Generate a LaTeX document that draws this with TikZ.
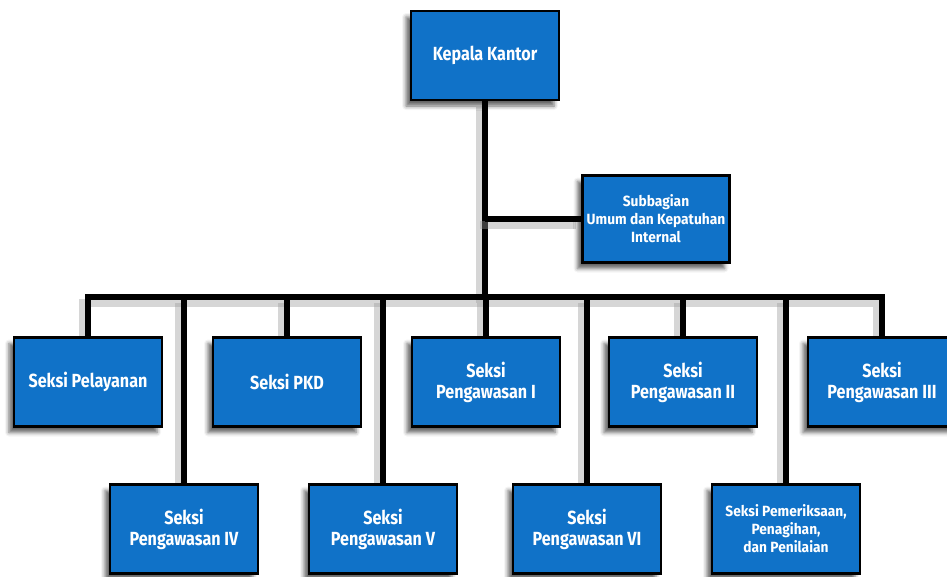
\documentclass[tikz,border=0pt]{standalone}
\usepackage{fontspec}
\setmainfont{Fira Sans}[FakeStretch=0.85]
\newfontfamily\widerfont{Fira Sans}[FakeStretch=0.93]
\usetikzlibrary{backgrounds,shadows.blur}
\definecolor{unitblue}{RGB}{16,114,200}
\tikzset{>=latex}
\tikzset{
    box/.style = {draw=black, line width=2.5pt, fill=unitblue, text=white, font=\bfseries\fontsize{19}{21}\selectfont,
        align=center, minimum width=148pt, minimum height=89pt, inner sep=2pt,
        blur shadow={shadow xshift=-5pt, shadow yshift=-6pt, shadow blur radius=4pt, shadow opacity=60}},
    small/.style = {font=\widerfont\bfseries\fontsize{14.8}{18}\selectfont},
    wire/.style = {line width=6pt, black,
        preaction={draw, line width=8pt, black!40, opacity=0.4, transform canvas={xshift=-5pt, yshift=-6pt}}}
}

\begin{document}
\begin{tikzpicture}[x=1pt, y=-1pt]

    \useasboundingbox (0,0) rectangle (947,576);

    \node[box] (kk) at (485,55.5) {Kepala Kantor};
    \node[box, small, minimum width=147pt, minimum height=87pt] (sub) at (656,219) {Subbagian\\Umum dan Kepatuhan\\Internal};

    % seksi, baris atas
    \node[box] (pel) at (88,382)  {Seksi Pelayanan};
    \node[box] (pkd) at (287,382) {Seksi PKD};
    \node[box] (p1)  at (486,382) {Seksi\\Pengawasan I};
    \node[box] (p2)  at (683,382) {Seksi\\Pengawasan II};
    \node[box] (p3)  at (882,382) {Seksi\\Pengawasan III};

    % seksi, baris bawah
    \node[box] (p4)  at (184,529) {Seksi\\Pengawasan IV};
    \node[box] (p5)  at (383,529) {Seksi\\Pengawasan V};
    \node[box] (p6)  at (587,529) {Seksi\\Pengawasan VI};
    \node[box, small] (pem) at (786,529) {Seksi Pemeriksaan,\\Penagihan,\\dan Penilaian};

    \coordinate (bus) at (485,297);

    \begin{scope}[on background layer]
        \draw[wire] (kk.south) -- (bus);
        \draw[wire] (kk.south |- sub.west) -- (sub.west);
        \draw[wire] (pel.north) |- (bus) -| (p3.north);
        \foreach \n in {pkd,p1,p2,p4,p5,p6,pem}
            \draw[wire] (\n.north |- bus) -- (\n.north);
    \end{scope}

\end{tikzpicture}
\end{document}
